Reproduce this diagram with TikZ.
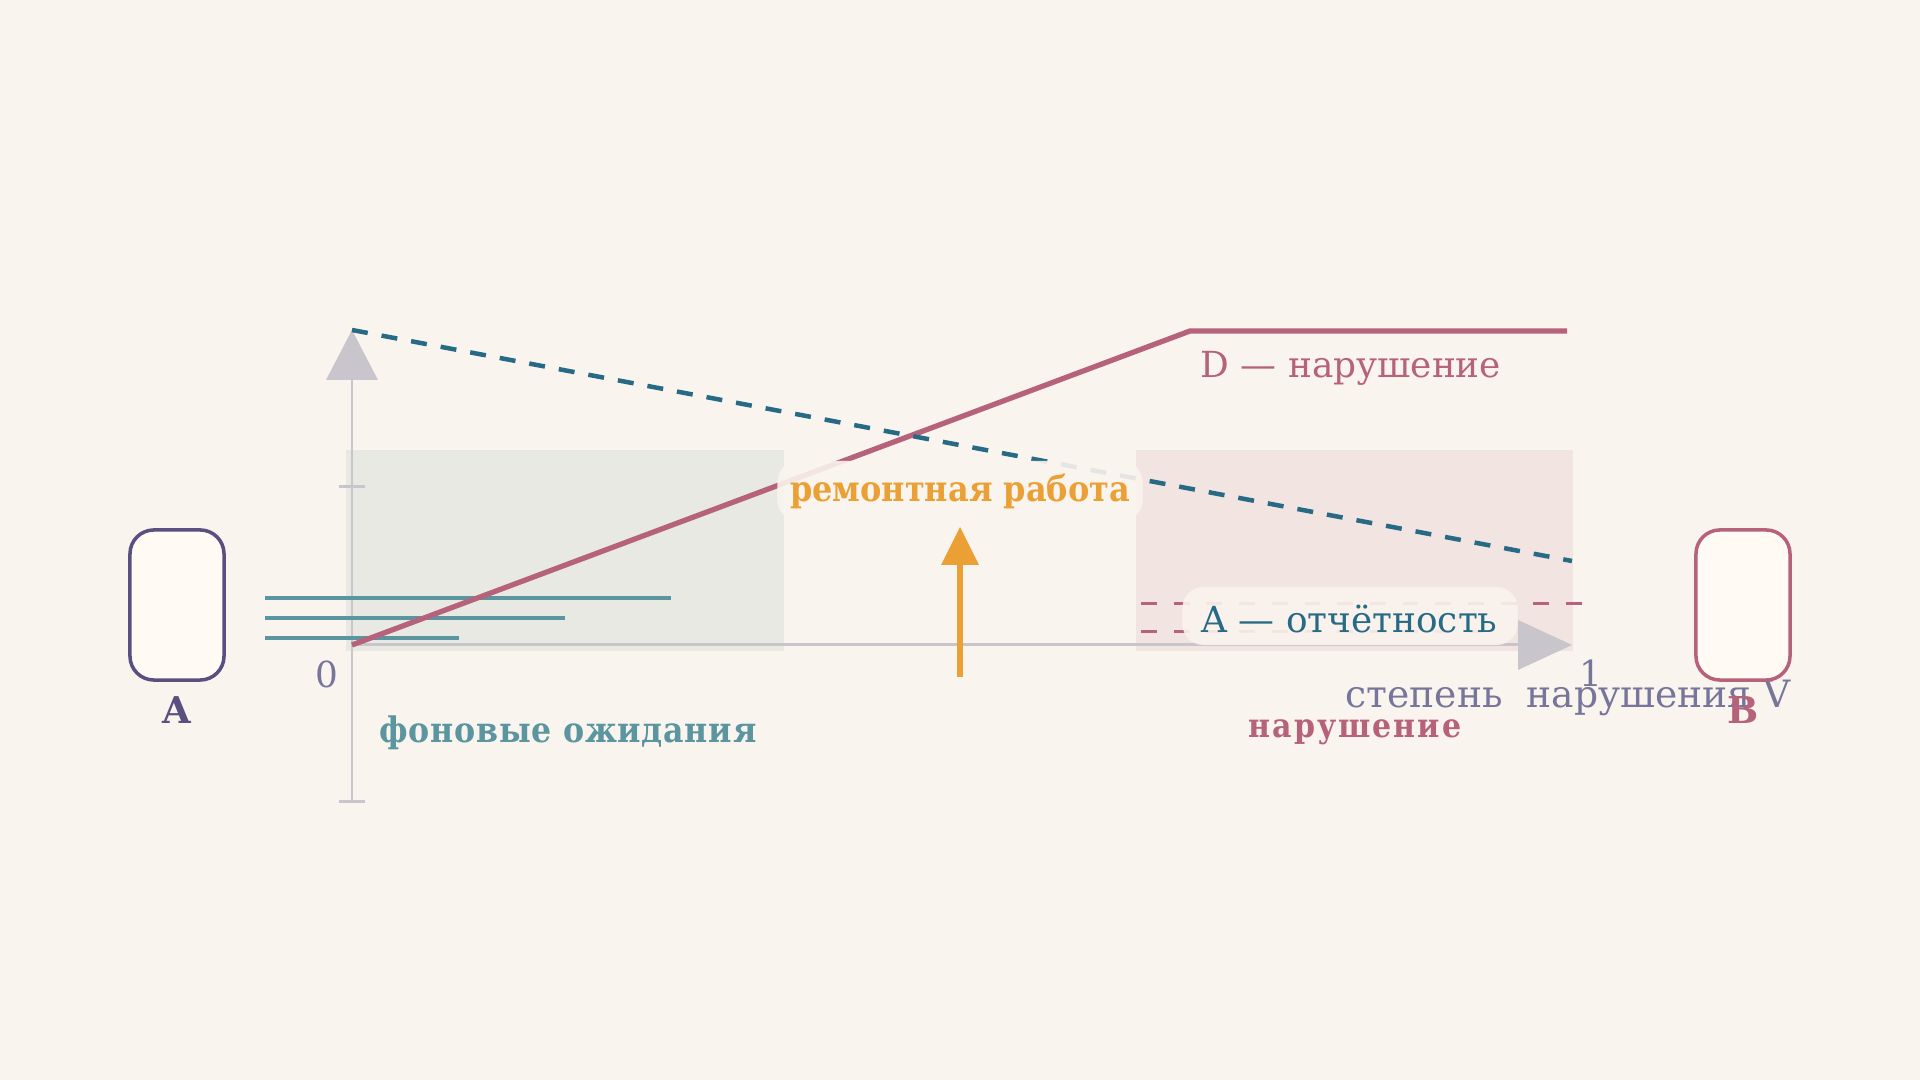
\documentclass[tikz,border=0pt]{standalone}
\usepackage{fontspec}
\setmainfont{DejaVu Serif}
\IfFontExistsTF{DejaVu Serif Condensed}{\newfontfamily\condfont{DejaVu Serif Condensed}}{\newfontfamily\condfont{DejaVu Serif}[FakeStretch=0.9]}
\definecolor{bg}{HTML}{FAF4EE}
\definecolor{greyzone}{HTML}{E9E9E3}
\definecolor{pinkzone}{HTML}{F2E4E1}
\definecolor{axisc}{HTML}{C8C6CC}
\definecolor{tealc}{HTML}{5A95A0}
\definecolor{rosec}{HTML}{B5627A}
\definecolor{bluec}{HTML}{276A85}
\definecolor{orangec}{HTML}{EBA035}
\definecolor{purplec}{HTML}{5A5080}
\definecolor{greytext}{HTML}{77769A}
\definecolor{boxfill}{HTML}{FFFAF4}
\begin{document}
\begin{tikzpicture}[x=0.01cm,y=-0.01cm,
  axisline/.style={draw=axisc,line width=0.85pt},
  tealline/.style={draw=tealc,line width=1pt},
  roseline/.style={draw=rosec,line width=1.5pt,line join=round},
  bluedash/.style={draw=bluec,line width=1.28pt,dash pattern=on 4.55pt off 4pt},
  rosedash/.style={draw=rosec,line width=0.85pt,dash pattern=on 4.5pt off 4.8pt},
  halo/.style={fill=bg,fill opacity=0.9,text opacity=1,rounded corners=6pt,inner sep=0pt},
  txt/.style={inner sep=0pt},
  reglabel/.style={txt,font=\fontsize{10.2}{12}\selectfont},
  boxstyle/.style={fill=boxfill,line width=1pt,rounded corners=6.8pt}]
\useasboundingbox[fill=bg] (0,0) rectangle (1920,1080);
% zones
\fill[greyzone] (346,450) rectangle (784,651);
\fill[pinkzone] (1136,450) rectangle (1573,651);
% axes
\coordinate (O) at (352,645);
\coordinate (Ybot) at (352,802);
\coordinate (Ytip) at (352,330);
\coordinate (Xtip) at (1572,645);
\draw[axisline] (Ybot) -- (352,378);
\fill[axisc] (Ytip) -- (326,380) -- (378,380) -- cycle;
\draw[axisline] (339,487) -- (365,487);
\draw[axisline] (339,802) -- (365,802);
\draw[axisline] (O) -- (1520,645);
\fill[axisc] (Xtip) -- (1518,620) -- (1518,670) -- cycle;
% teal background expectations
\draw[tealline] (265,598) -- (671,598);
\draw[tealline] (265,618) -- (565,618);
\draw[tealline] (265,638) -- (459,638);
% rose violation line
\coordinate (K) at (1190,331);
\coordinate (Rend) at (1567,331);
\draw[roseline] (O) -- (K) -- (Rend);
% blue dashed
\coordinate (Bend) at (1572,561);
\draw[bluedash] (Ytip) -- (Bend);
% rose dashed
\draw[rosedash] (1141,604) -- (1596,604);
\draw[rosedash] (1141,632) -- (1500,632);
% orange arrow
\coordinate (Obot) at (960,677);
\coordinate (Otip) at (960,527);
\draw[orangec,line width=1.8pt] (Obot) -- (960,560);
\fill[orangec] (Otip) -- (941,565) -- (979,565) -- cycle;
% labels with halos
\node[halo,minimum width=3.65cm,minimum height=0.6cm] (remh) at (960,491) {};
\node[txt,anchor=base,text=orangec,font=\condfont\fontsize{10.1}{12}\bfseries\selectfont] (rem) at (960,502) {ремонтная работа};
\node[halo,minimum width=3.35cm,minimum height=0.58cm] (otch) at (1350,616) {};
\node[anchor=base west,reglabel,text=bluec] (A2) at (1201,633) {A — отчётность};
\node[anchor=base west,reglabel,text=rosec] (D) at (1200,378) {D — нарушение};
\node[txt,anchor=base west,text=greytext,font=\fontsize{10.7}{13}\selectfont] (xl) at (1345,708) {степень\ \ нарушения V};
\node[anchor=base,reglabel,text=greytext] (one) at (1591,687) {1};
\node[anchor=base,reglabel,text=greytext] (zero) at (327,688) {0};
\node[txt,anchor=base west,text=tealc,font=\condfont\fontsize{10}{12}\bfseries\selectfont] (fon) at (379,743) {\addfontfeature{LetterSpace=2}фоновые ожидания};
\node[txt,anchor=base west,text=rosec,font=\condfont\fontsize{9.5}{12}\bfseries\selectfont] (nar) at (1248,738) {\addfontfeature{LetterSpace=6}нарушение};
% agents
\node[boxstyle,draw=purplec,minimum width=0.94cm,minimum height=1.5cm] (boxA) at (177,605) {};
\node[boxstyle,draw=rosec,minimum width=0.94cm,minimum height=1.5cm] (boxB) at (1743,605) {};
\node[txt,anchor=base,text=purplec,font=\fontsize{10.5}{12}\bfseries\selectfont] (labA) at (177,724) {A};
\node[txt,anchor=base,text=rosec,font=\fontsize{10.5}{12}\bfseries\selectfont] (labB) at (1743,724) {B};
\end{tikzpicture}
\end{document}
